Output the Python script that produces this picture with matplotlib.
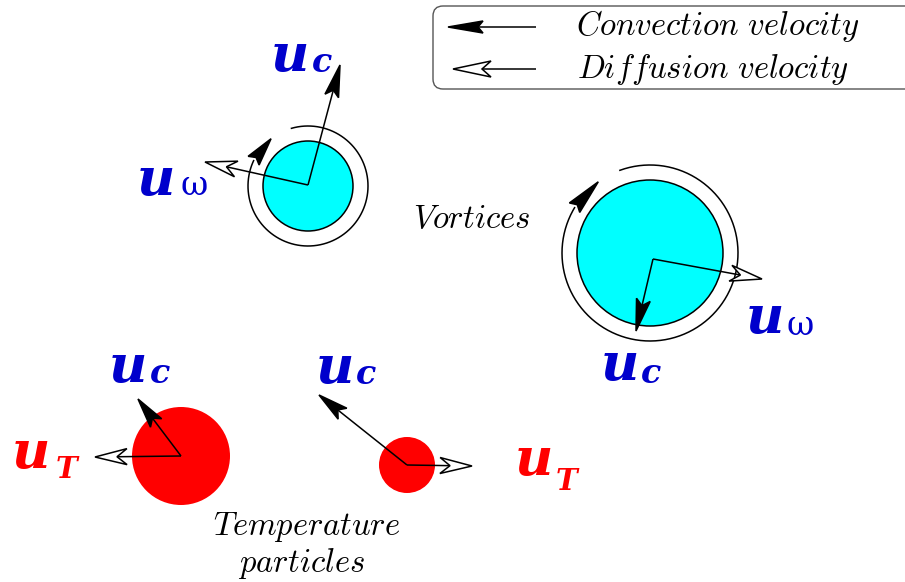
import numpy as np
import matplotlib.pyplot as plt
from matplotlib.patches import Circle, Polygon, FancyBboxPatch

plt.rcParams['mathtext.fontset'] = 'cm'

# vortices (pixel coordinates of the sketch)
vort_x = [308, 650]
vort_y = [186, 253]
vort_r = [45, 73]
ring_r = [60, 88]
ring_start = [106, 110]   # deg, where the ring begins
ring_head = [155, 149]    # deg, base of the arrow head
ring_tip = [128, 126]     # deg, tip of the arrow head
vort_orig = [(308, 185), (653, 259)]
vort_conv = [(340, 65), (636, 331)]
vort_diff = [(205, 162), (762, 279)]

# temperature particles
part_x = [181, 407]
part_y = [456, 465]
part_r = [49, 28]
part_conv = [(138, 399), (319, 395)]
part_diff = [(95, 457), (472, 466)]

BLUE = '#0000cc'
RED = '#ff0000'
CYAN = '#00ffff'

# labels: main x, baseline, sub text, sub x, sub baseline, sub size, colour, sub bold
labels = [
    (271, 71, 'c', 312, 72, 24, BLUE, True),
    (137, 195, 'ω', 180, 195, 24, BLUE, False),
    (746, 333, 'ω', 786, 335, 24, BLUE, False),
    (601, 380, 'c', 641, 383, 24, BLUE, True),
    (109, 382, 'c', 150, 383, 24, BLUE, True),
    (12, 468, 'T', 56, 478, 21, RED, True),
    (316, 383, 'c', 356, 384, 24, BLUE, True),
    (515, 475, 'T', 556, 490, 21, RED, True),
]

LW = 1.1


def head(ax, base, tip, filled, w, notch):
    base = np.asarray(base, float)
    tip = np.asarray(tip, float)
    d = tip - base
    u = d / np.hypot(*d)
    n = np.array([-u[1], u[0]])
    pn = base + notch * u
    poly = Polygon([tip, base + w * n, pn, base - w * n], closed=True,
                   fc='black' if filled else 'white', ec='black', lw=LW,
                   joinstyle='miter', zorder=6)
    ax.add_patch(poly)
    return pn


def arrow(ax, p0, p1, filled, hl=30, w=7, notch=8):
    p0 = np.asarray(p0, float)
    p1 = np.asarray(p1, float)
    d = p1 - p0
    u = d / np.hypot(*d)
    pn = head(ax, p1 - hl * u, p1, filled, w, notch)
    ax.plot([p0[0], pn[0]], [p0[1], pn[1]], color='black', lw=LW, zorder=5,
            solid_capstyle='butt')


fig = plt.figure(figsize=(9.05, 5.82), dpi=100)
ax = fig.add_axes([0, 0, 1, 1])
ax.set_xlim(0, 905)
ax.set_ylim(582, 0)
ax.set_aspect('equal')
ax.axis('off')

# legend box
box = FancyBboxPatch((433, 6), 520, 83, boxstyle='round,pad=0,rounding_size=10',
                     fc='white', ec='#555555', lw=1.0, zorder=2)
ax.add_patch(box)
arrow(ax, (536, 27), (448, 27), True, hl=35, w=6, notch=5)
arrow(ax, (536, 69), (453, 69), False, hl=38, w=8, notch=9)
ax.text(576, 35, r'$\mathit{Convection\ velocity}$', fontsize=23.5, va='baseline')
ax.text(577, 78, r'$\mathit{Diffusion\ velocity}$', fontsize=23.5, va='baseline')

# vortices
for i in range(len(vort_x)):
    cx, cy = vort_x[i], vort_y[i]
    ax.add_patch(Circle((cx, cy), vort_r[i], fc=CYAN, ec='black', lw=LW, zorder=3))
    R = ring_r[i]
    th = np.radians(np.linspace(ring_start[i], ring_head[i] - 360, 300))
    ax.plot(cx + R * np.cos(th), cy - R * np.sin(th), color='black', lw=LW, zorder=4)
    tb, tt = np.radians(ring_head[i]), np.radians(ring_tip[i])
    head(ax, (cx + R * np.cos(tb), cy - R * np.sin(tb)),
         (cx + R * np.cos(tt), cy - R * np.sin(tt)), True, 7, 4)
    arrow(ax, vort_orig[i], vort_conv[i], True, hl=32, w=7, notch=6)
    arrow(ax, vort_orig[i], vort_diff[i], False, hl=32, w=8, notch=10)

# temperature particles
for i in range(len(part_x)):
    ax.add_patch(Circle((part_x[i], part_y[i]), part_r[i], fc=RED, ec='none', zorder=3))
    arrow(ax, (part_x[i], part_y[i]), part_conv[i], True, hl=30, w=7, notch=6)
    arrow(ax, (part_x[i], part_y[i]), part_diff[i], False, hl=32, w=8, notch=10)

for (x, y, sub, sx, sy, ss, col, bold) in labels:
    ax.text(x, y, 'u', fontsize=38, family='DejaVu Serif', weight='bold',
            style='italic', color=col, va='baseline')
    ax.text(sx, sy, sub, fontsize=ss, family='DejaVu Serif',
            weight='bold' if bold else 'normal',
            style='italic' if bold else 'normal', color=col, va='baseline')

ax.text(472, 228, r'$\mathit{Vortices}$', fontsize=23.5, ha='center', va='baseline')
ax.text(307, 535, r'$\mathit{Temperature}$', fontsize=23.5, ha='center', va='baseline')
ax.text(302, 572, r'$\mathit{particles}$', fontsize=23.5, ha='center', va='baseline')

fig.savefig('out.png', dpi=100)
